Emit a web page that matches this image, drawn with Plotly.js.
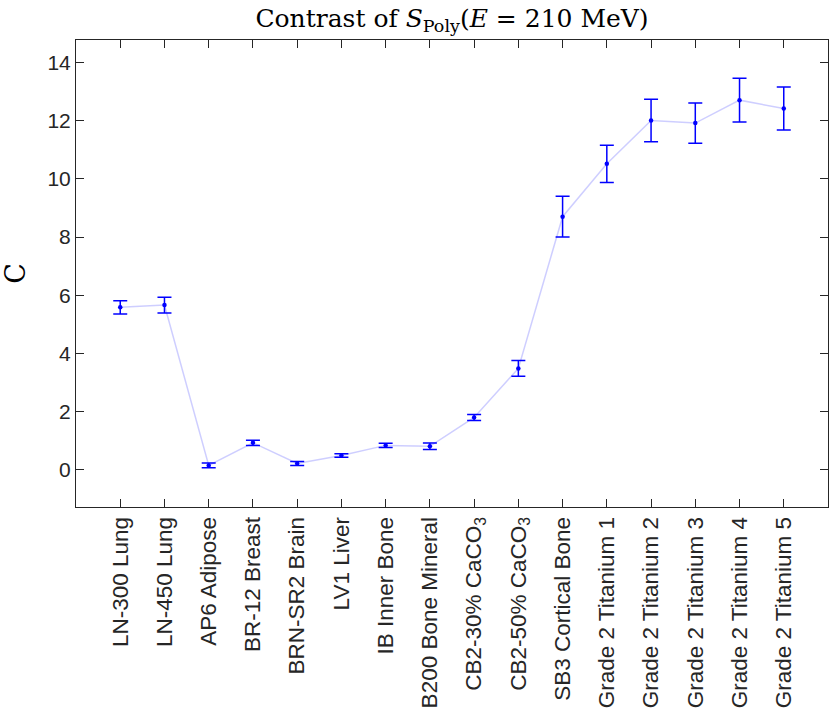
<!DOCTYPE html>
<html>
<head>
<meta charset="utf-8">
<script src="https://cdn.plot.ly/plotly-3.0.1.min.js"></script>
<style>
  html, body { margin: 0; padding: 0; background: #fff; }
  #chart { width: 830px; height: 713px; }
</style>
</head>
<body>
<div id="chart"></div>
<script>
// Phantom inserts, in plotting order
const materials = [
    'LN-300 Lung', 'LN-450 Lung', 'AP6 Adipose', 'BR-12 Breast', 'BRN-SR2 Brain',
    'LV1 Liver', 'IB Inner Bone', 'B200 Bone Mineral', 'CB2-30% CaCO<sub>3</sub>',
    'CB2-50% CaCO<sub>3</sub>', 'SB3 Cortical Bone', 'Grade 2 Titanium 1',
    'Grade 2 Titanium 2', 'Grade 2 Titanium 3', 'Grade 2 Titanium 4', 'Grade 2 Titanium 5'
];
const positions = [1, 2, 3, 4, 5, 6, 7, 8, 9, 10, 11, 12, 13, 14, 15, 16];

// contrast C and its uncertainty
const contrast = [5.58, 5.66, 0.14, 0.92, 0.21, 0.48, 0.83, 0.80, 1.79, 3.48, 8.70, 10.52, 12.01, 11.92, 12.71, 12.42];
const contrastErr = [0.23, 0.27, 0.08, 0.09, 0.07, 0.06, 0.07, 0.11, 0.10, 0.27, 0.70, 0.64, 0.73, 0.69, 0.75, 0.74];

const yTicks = [0, 2, 4, 6, 8, 10, 12, 14];

const axisColor = '#262626';
const sansFont = 'Liberation Sans, Arial, sans-serif';
const serifFont = 'DejaVu Serif, Liberation Serif, serif';

const traces = [
    {   // faint connecting line
        type: 'scatter',
        mode: 'lines',
        x: positions,
        y: contrast,
        line: { color: 'rgba(60,60,255,0.25)', width: 1.5 },
        hoverinfo: 'skip'
    },
    {   // points with error bars
        type: 'scatter',
        mode: 'markers',
        x: positions,
        y: contrast,
        marker: { color: '#0000ff', size: 4.5 },
        error_y: {
            type: 'data',
            array: contrastErr,
            visible: true,
            color: '#0000ff',
            thickness: 1.5,
            width: 7
        }
    }
];

const layout = {
    width: 830,
    height: 713,
    margin: { l: 76, r: 2, t: 40, b: 206 },
    paper_bgcolor: '#fff',
    plot_bgcolor: '#fff',
    showlegend: false,
    font: { family: sansFont, color: axisColor, size: 21 },
    title: {
        text: 'Contrast of <i>S</i><sub>Poly</sub>(<i>E</i> = 210 MeV)',
        font: { family: serifFont, size: 25, color: '#000' },
        xref: 'paper', x: 0.5, xanchor: 'center',
        yref: 'container', y: 0.975, yanchor: 'middle'
    },
    xaxis: {
        range: [0, 17],
        tickmode: 'array',
        tickvals: positions,
        ticktext: materials,
        tickangle: -90,
        ticks: 'inside',
        ticklen: 8,
        tickwidth: 1,
        tickcolor: axisColor,
        showline: true,
        linecolor: axisColor,
        linewidth: 1,
        mirror: 'ticks',
        showgrid: false,
        zeroline: false,
        tickfont: { family: sansFont, size: 22.5, color: axisColor }
    },
    yaxis: {
        range: [-1.29, 14.78],
        tickmode: 'array',
        tickvals: yTicks,
        ticks: 'inside',
        ticklen: 8,
        tickwidth: 1,
        tickcolor: axisColor,
        showline: true,
        linecolor: axisColor,
        linewidth: 1,
        mirror: 'ticks',
        showgrid: false,
        zeroline: false,
        tickfont: { family: sansFont, size: 21, color: axisColor },
        title: {
            text: 'C',
            font: { family: serifFont, size: 27, color: '#000' },
            standoff: 22
        }
    }
};

Plotly.newPlot('chart', traces, layout, { displayModeBar: false, responsive: false });
</script>
</body>
</html>
